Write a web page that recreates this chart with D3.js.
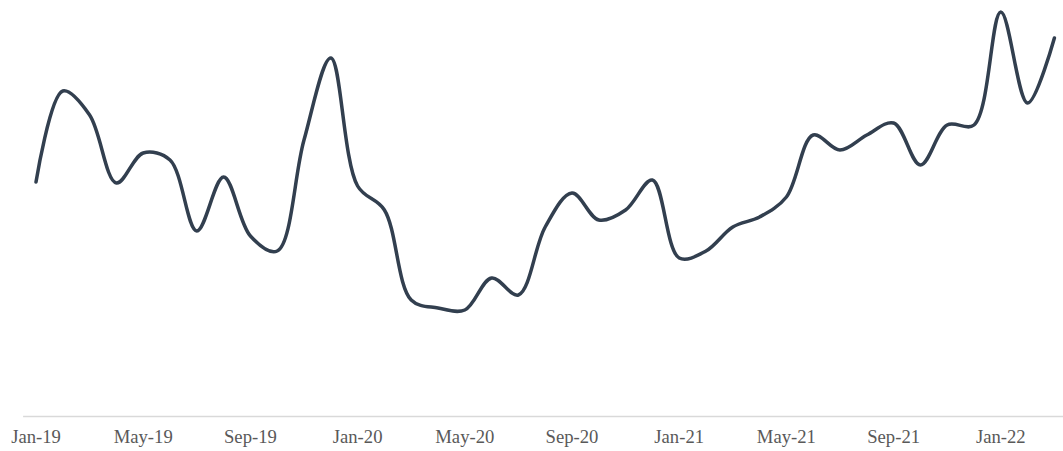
<!DOCTYPE html>
<html>
<head>
<meta charset="utf-8">
<script src="https://cdn.jsdelivr.net/npm/d3@7"></script>
<style>
  html, body { margin: 0; padding: 0; background: #fff; }
  svg { display: block; }
</style>
</head>
<body>
<svg id="chart" width="1063" height="451"></svg>
<script>
const months = ["Jan","Feb","Mar","Apr","May","Jun","Jul","Aug","Sep","Oct","Nov","Dec"];
const categories = [];
for (let y = 19; y <= 22; y++) {
  for (let m = 0; m < 12; m++) {
    if (y === 22 && m > 2) break;
    categories.push(months[m] + "-" + y);
  }
}
const values = [
  58.5, 81.25, 75.25, 58.25, 65.75, 64, 46.25, 59.75, 45, 41.25,
  69, 89.5, 57.5, 51.5, 29, 27, 26.5, 34.5, 30.25, 47.25,
  55.75, 49, 51.5, 59, 39.5, 41.25, 47.25, 49.75, 54.75, 70.25,
  66.5, 70.25, 73.25, 62.75, 72.75, 72.75, 101, 78.25, 94.5
];
const tickLabels = ["Jan-19","May-19","Sep-19","Jan-20","May-20","Sep-20","Jan-21","May-21","Sep-21","Jan-22"];

const svg = d3.select("#chart");
const x = d3.scaleBand().domain(categories).range([22.6, 22.6 + 26.8 * categories.length]).padding(0);
const y = d3.scaleLinear().domain([0, 104]).range([416, 0]);

const xAxis = d3.axisBottom(x).tickValues(tickLabels).tickSize(0).tickPadding(14);
const gx = svg.append("g").attr("transform", "translate(0,416)").call(xAxis);
gx.select(".domain").attr("stroke", "#d9d9d9").attr("stroke-width", 1.3);
gx.selectAll("text")
  .attr("fill", "#595959")
  .style("font-family", "'Liberation Serif', 'Times New Roman', serif")
  .style("font-size", "18.67px");

const line = d3.line()
  .x((d, i) => x(categories[i]) + x.bandwidth() / 2)
  .y(d => y(d))
  .curve(d3.curveCatmullRom.alpha(0.5));

svg.append("path")
  .datum(values)
  .attr("fill", "none")
  .attr("stroke", "#323f4f")
  .attr("stroke-width", 3.5)
  .attr("stroke-linecap", "round")
  .attr("stroke-linejoin", "round")
  .attr("d", line);
</script>
</body>
</html>
